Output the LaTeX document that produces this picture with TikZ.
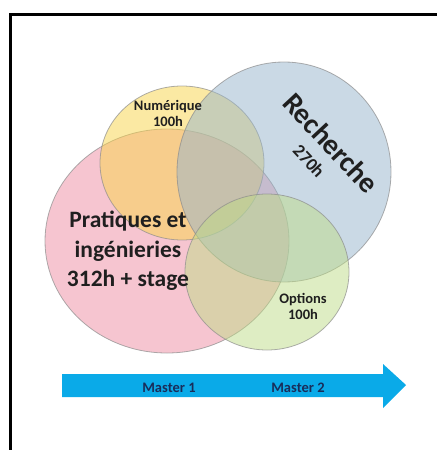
\documentclass[tikz,border=0pt]{standalone}
\usepackage{fontspec}
\setmainfont{Carlito}
\usetikzlibrary{positioning}
\definecolor{rose}{RGB}{238,140,162}
\definecolor{jaune}{RGB}{248,212,72}
\definecolor{bleu}{RGB}{150,180,204}
\definecolor{vert}{RGB}{190,220,135}
\definecolor{fleche}{RGB}{10,170,232}
\definecolor{marine}{RGB}{25,45,90}
\tikzset{
  bulle/.style={draw=black!45, line width=0.8pt, fill opacity=0.5, draw opacity=0.7},
  etiq/.style={text=black!88, align=center, inner sep=0pt},
  petit/.style={font=\fontsize{14.5}{16}\selectfont\bfseries},
}
\begin{document}
\begin{tikzpicture}[x=1pt,y=-1pt]
  \useasboundingbox (0,0) rectangle (437,450);
  \draw[line width=3pt] (10.5,450) -- (10.5,14.5) -- (437,14.5); % cadre
  % les quatre bulles
  \draw[bulle,fill=rose] (167,241) ellipse [x radius=122pt, y radius=112pt];
  \draw[bulle,fill=jaune] (182,163) ellipse [x radius=82pt, y radius=77pt];
  \draw[bulle,fill=bleu] (284,172) ellipse [x radius=107pt, y radius=110pt];
  \draw[bulle,fill=vert] (267,272) ellipse [x radius=82pt, y radius=78pt];
  % textes
  \node[etiq,font=\fontsize{23.5}{29.5}\selectfont\bfseries] (pratiques) at (128,251) {Pratiques et\\ingénieries\\312h + stage};
  \node[etiq,petit] (numerique) at (168,113) {Numérique\\100h};
  \node[etiq,font=\fontsize{29}{32}\selectfont\bfseries,rotate=-47] (recherche) at (331,143) {Recherche};
  \node[etiq,font=\fontsize{18}{20}\selectfont\bfseries,rotate=-47] (heures) at (309,161) {270h};
  \node[etiq,petit] (options) at (303,306) {Options\\100h};
  % la fleche du temps
  \fill[fleche] (62,374) -- (383,374) -- (383,364) -- (406,385) -- (383,408) -- (383,397) -- (62,397) -- cycle;
  \node[etiq,petit,text=marine] (m1) at (169,388) {Master 1};
  \node[etiq,petit,text=marine] (m2) at (298,388) {Master 2};
\end{tikzpicture}
\end{document}
